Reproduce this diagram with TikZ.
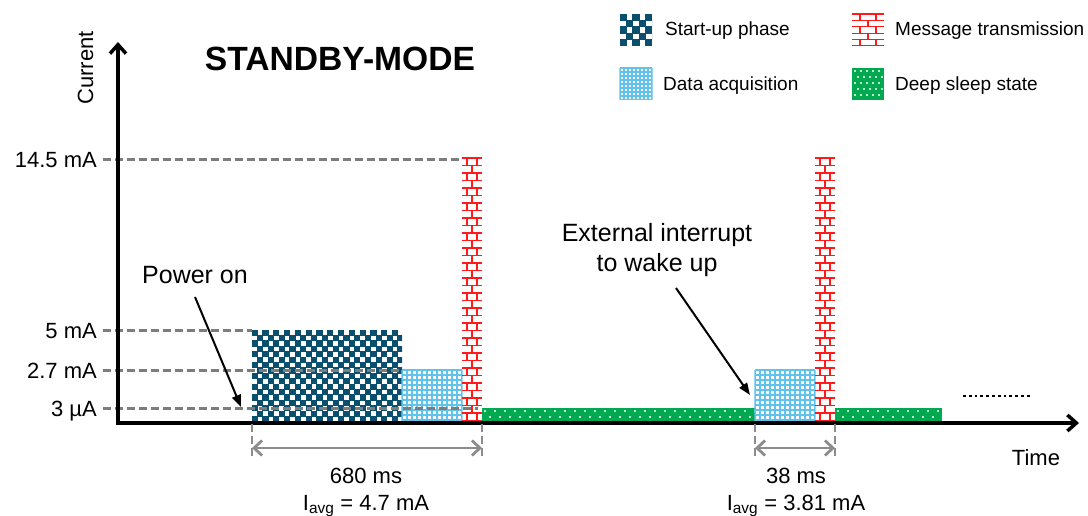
\documentclass[tikz,border=0pt]{standalone}
\usepackage{fontspec}
\setmainfont{Liberation Sans}
\usetikzlibrary{arrows.meta}
\definecolor{chk}{RGB}{10,80,110}
\definecolor{acq}{RGB}{95,195,235}
\definecolor{brick}{RGB}{255,25,25}
\definecolor{sleep}{RGB}{0,168,80}
\definecolor{guide}{RGB}{125,125,125}
\definecolor{dimc}{RGB}{140,140,140}

% checkerboard fill: x1 y1 x2 y2 cell
\newcommand\chkfill[5]{%
\begin{scope}
\clip (#1,#2) rectangle (#3,#4);
\pgfmathtruncatemacro\nxc{(#3-#1)/#5}
\pgfmathtruncatemacro\nyc{(#4-#2)/#5}
\foreach \i in {0,...,\nxc}{\foreach \j in {0,...,\nyc}{%
 \ifodd\numexpr\i+\j\relax\else
 \fill[chk] ({#1+\i*#5-0.4},{#2+\j*#5-0.4}) rectangle ++({#5+0.8},{#5+0.8});
 \fi}}
\end{scope}}
% grid fill
\newcommand\gridfill[5]{%
\begin{scope}
\clip ({#1-0.6},{#2-0.6}) rectangle ({#3+0.6},#4);
\pgfmathtruncatemacro\nxg{(#3-#1)/#5}
\pgfmathtruncatemacro\nyg{(#4-#2)/#5}
\foreach \k in {0,...,\nxg}{\draw[acq,line width=1.2pt] ({#1+\k*#5},#2) -- ({#1+\k*#5},#4);}
\foreach \k in {0,...,\nyg}{\draw[acq,line width=1.2pt] (#1,{#2+\k*#5}) -- (#3,{#2+\k*#5});}
\end{scope}}
% brick fill
\newcommand\brickfill[5]{%
\begin{scope}
\clip ({#1-0.6},{#2-0.6}) rectangle ({#3+0.6},#4);
\pgfmathtruncatemacro\nrb{(#4-#2)/#5}
\foreach \k in {0,...,\nrb}{%
 \draw[brick,line width=1.3pt] (#1,{#2+\k*#5}) -- (#3,{#2+\k*#5});
 \ifodd\k
  \draw[brick,line width=1.3pt] ({(#1+#3)/2},{#2+\k*#5}) -- ({(#1+#3)/2},{#2+(\k+1)*#5});
 \else
  \draw[brick,line width=1.3pt] ({#1+(#3-#1)/4},{#2+\k*#5}) -- ({#1+(#3-#1)/4},{#2+(\k+1)*#5});
  \draw[brick,line width=1.3pt] ({#1+3*(#3-#1)/4},{#2+\k*#5}) -- ({#1+3*(#3-#1)/4},{#2+(\k+1)*#5});
 \fi}
\end{scope}}
% green dotted fill
\newcommand\sleepfill[5]{%
\begin{scope}
\fill[sleep] (#1,#2) rectangle (#3,#4);
\clip (#1,#2) rectangle (#3,#4);
\pgfmathtruncatemacro\nxs{(#3-#1)/#5}
\pgfmathtruncatemacro\nys{(#4-#2)/6}
\foreach \i in {0,...,\nxs}{\foreach \j in {0,...,\nys}{%
 \ifodd\j
  \fill[white] ({#1+3+\i*#5+#5/2},{#2+3+\j*6}) circle (1.1);
 \else
  \fill[white] ({#1+3+\i*#5},{#2+3+\j*6}) circle (1.1);
 \fi}}
\end{scope}}

\tikzset{
 lbl/.style={font=\fontsize{22}{26}\selectfont, inner sep=0pt},
 big/.style={font=\fontsize{25}{30}\selectfont, inner sep=0pt},
 leg/.style={font=\fontsize{19}{23}\selectfont, inner sep=0pt, anchor=base west},
 levelline/.style={guide, line width=3pt, dash pattern=on 8pt off 4pt},
 dimline/.style={dimc, line width=2.8pt, dash pattern=on 8pt off 4pt},
 dimarrow/.style={dimc, line width=2.8pt, {Straight Barb[length=8pt,width=15pt]}-{Straight Barb[length=8pt,width=15pt]}},
 axisline/.style={black, line width=3.5pt, {Straight Barb[length=9pt,width=16pt]}-{Straight Barb[length=9pt,width=16pt]}},
 callout/.style={black, line width=2pt, -{Triangle[length=12pt,width=9pt]}}
}

\begin{document}
\begin{tikzpicture}[x=1pt,y=-1pt]
\useasboundingbox (0,0) rectangle (1088,516);

% ---- bars ----
\chkfill{252}{330}{402}{422}{5.4}
\gridfill{402}{370}{462}{422}{5}
\brickfill{462}{158}{482}{422}{7.5}
\sleepfill{482}{408}{755}{422}{10}
\gridfill{755}{370}{815}{422}{5}
\brickfill{815}{158}{835}{422}{7.5}
\sleepfill{835}{408}{942}{422}{10}

% ---- level labels and guide lines ----
\node[lbl,anchor=base east] (l145) at (97,168) {14.5 mA};
\node[lbl,anchor=base east] (l5)   at (97,338) {5 mA};
\node[lbl,anchor=base east] (l27)  at (97,378) {2.7 mA};
\node[lbl,anchor=base east] (l3)   at (97,416) {3 µA};
\coordinate (g145) at (460,160);
\coordinate (g5) at (252,330);
\coordinate (g27) at (402,370);
\coordinate (g3) at (478,408);
\draw[levelline] (103,160) -- (g145);
\draw[levelline] (103,330) -- (g5);
\draw[levelline] (103,370) -- (g27);
\draw[levelline] (103,408) -- (g3);

% ---- axes ----
\coordinate (ytop) at (118,42);
\coordinate (origin) at (118,423);
\coordinate (xend) at (1079,423);
\draw[axisline] (ytop) -- (origin) -- (xend);
\node[lbl,rotate=90,anchor=base] (cur) at (93,68) {Current};
\node[lbl,anchor=base] (time) at (1036,465) {Time};
\node[font=\bfseries\fontsize{33.6}{40}\selectfont, inner sep=0pt, anchor=base] (title) at (340,71) {STANDBY-MODE};

% ---- trailing dots ----
\coordinate (dotA) at (963,396);
\coordinate (dotB) at (1032,396);
\draw[black, line width=2.8pt, dash pattern=on 2.8pt off 3pt] (dotA) -- (dotB);

% ---- dimensions ----
\coordinate (d1a) at (252,424); \coordinate (d1b) at (482,424);
\coordinate (d2a) at (755,424); \coordinate (d2b) at (835,424);
\draw[dimline] (d1a) -- ++(0,32);
\draw[dimline] (d1b) -- ++(0,32);
\draw[dimline] (d2a) -- ++(0,32);
\draw[dimline] (d2b) -- ++(0,32);
\draw[dimarrow] ([yshift=-24pt]d1a) -- ([yshift=-24pt]d1b);
\draw[dimarrow] ([yshift=-24pt]d2a) -- ([yshift=-24pt]d2b);
\node[lbl,anchor=base] (t680) at (366,483) {680 ms};
\node[lbl,anchor=base] (i47) at (366,510) {I\textsubscript{avg} = 4.7 mA};
\node[lbl,anchor=base] (t38) at (796,483) {38 ms};
\node[lbl,anchor=base] (i381) at (796,510) {I\textsubscript{avg} = 3.81 mA};

% ---- callouts ----
\node[big,anchor=base] (pon) at (195,283) {Power on};
\coordinate (ponS) at (195,297);
\coordinate (ponE) at (241,407);
\draw[callout] (ponS) -- (ponE);
\node[big,anchor=base] (ext1) at (657,241) {External interrupt};
\node[big,anchor=base] (ext2) at (657,271) {to wake up};
\coordinate (extS) at (676,288);
\coordinate (extE) at (750,395);
\draw[callout] (extS) -- (extE);

% ---- legend ----
\chkfill{620}{14}{652}{46}{6.4}
\brickfill{852}{14}{884}{46}{6.4}
\gridfill{620}{68}{652}{100}{4}
\sleepfill{852}{68}{884}{100}{6}
\node[leg] (lg1) at (665,36) {Start-up phase};
\node[leg] (lg2) at (895,36) {Message transmission};
\node[leg] (lg3) at (663,91) {Data acquisition};
\node[leg] (lg4) at (895,91) {Deep sleep state};
\end{tikzpicture}
\end{document}
